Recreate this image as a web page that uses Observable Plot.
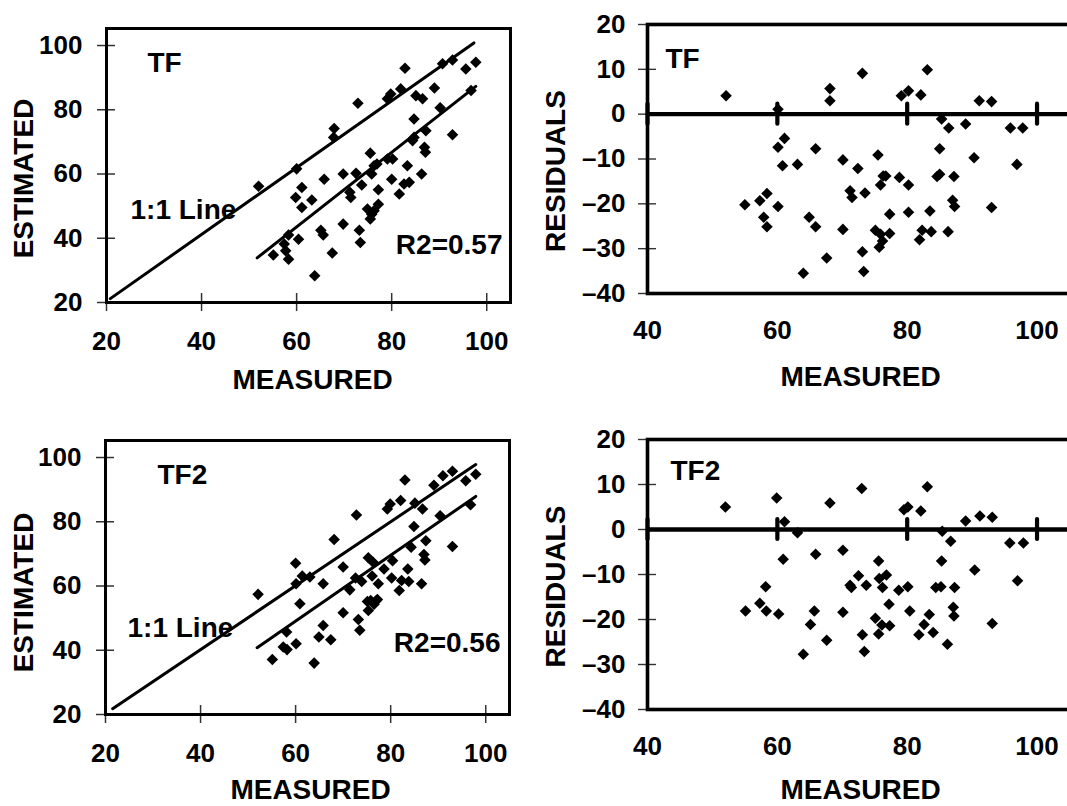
<!DOCTYPE html>
<html>
<head>
<meta charset="utf-8">
<script src="https://cdn.jsdelivr.net/npm/d3@7"></script>
<script src="https://cdn.jsdelivr.net/npm/@observablehq/plot@0.6"></script>
<style>
html, body { margin: 0; padding: 0; background: #fff; overflow: hidden; width: 1067px; height: 806px; }
#root { position: relative; width: 1067px; height: 806px; overflow: hidden; background: #fff; }
.panel { position: absolute; }
</style>
</head>
<body>
<div id="root"></div>
<script>
// ---------- data ----------
const panelNames = ["TF", "TF2"];
const r2Labels = ["R2=0.57", "R2=0.56"];
const lineLabel = "1:1 Line";
const xTitle = "MEASURED";
const yTitleScatter = "ESTIMATED";
const yTitleResidual = "RESIDUALS";

const scatterXTicks = [20, 40, 60, 80, 100];
const scatterYTicks = [20, 40, 60, 80, 100];
const residualXTicks = [40, 60, 80, 100];
const residualYTicks = [-40, -30, -20, -10, 0, 10, 20];

// TF: measured vs estimated
const tfMeasured = [52.0,55.1,57.4,57.7,58.3,58.3,60.0,59.8,61.1,61.1,60.4,63.2,63.8,65.1,65.6,65.8,67.5,67.9,67.8,69.8,69.8,71.2,71.4,72.5,72.9,73.2,73.4,73.7,74.9,75.5,75.5,75.8,75.8,76.3,76.3,76.9,77.2,77.2,79.1,79.1,79.8,80.2,80.0,81.6,81.9,82.8,82.6,83.7,83.3,84.4,84.7,84.7,85.1,86.3,86.5,86.9,87.1,87.2,89.0,90.2,90.7,92.8,92.8,95.6,96.7,97.7];
const tfEstimated = [56.2,34.8,38.2,36.1,41.0,33.5,61.6,52.7,55.8,49.6,39.7,51.9,28.3,42.5,41.0,58.4,35.4,74.2,71.4,60.0,44.4,54.3,52.7,60.2,82.0,42.5,38.7,56.6,49.1,66.5,46.0,60.0,47.5,62.6,48.6,63.1,55.1,50.6,83.4,64.7,84.9,64.7,58.4,53.8,86.5,92.9,56.9,57.4,62.6,70.4,71.4,77.1,84.4,60.0,83.4,68.3,66.8,73.5,86.8,80.6,94.3,95.5,72.2,92.7,86.0,94.8];
const tfDiagX = [20.8, 97.3];
const tfDiagY = [21.2, 100.8];
const tfFitX = [51.7, 97.7];
const tfFitY = [33.9, 87.3];

// TF: residuals
const tfResMeasured = [52.1,55.0,57.3,57.9,58.4,58.4,60.1,60.1,60.1,61.1,60.8,63.1,64.0,64.9,65.9,65.9,67.6,68.1,68.1,70.1,70.1,72.4,71.2,71.5,73.1,73.1,73.5,73.3,75.5,75.1,75.9,76.3,76.7,75.7,76.2,75.9,77.3,77.3,78.8,79.1,80.2,80.2,80.2,81.9,82.1,82.3,83.1,83.5,83.7,84.6,85.0,85.0,85.3,86.3,86.4,87.2,87.0,87.3,89.0,90.3,91.1,93.0,93.0,95.9,96.9,97.8];
const tfResidual = [4.1,-20.2,-19.3,-23.0,-17.7,-25.1,1.1,-7.4,-20.6,-5.4,-11.5,-11.2,-35.5,-23.0,-7.7,-25.1,-32.1,5.7,3.0,-10.2,-25.7,-12.1,-17.1,-18.6,9.1,-30.7,-17.6,-35.1,-9.1,-25.9,-15.8,-13.8,-13.8,-29.7,-28.3,-26.8,-22.3,-26.6,-14.1,4.1,5.2,-15.8,-21.9,-28.0,4.3,-25.9,9.9,-21.6,-26.2,-13.9,-13.4,-7.7,-1.1,-26.2,-3.1,-13.9,-19.2,-20.6,-2.2,-9.7,3.0,2.8,-20.8,-3.1,-11.2,-3.1];

// TF2: measured vs estimated
const tf2Measured = [52.1,55.1,57.4,58.1,58.2,60.0,60.1,60.9,60.1,61.4,63.0,63.9,64.9,65.8,65.8,67.4,68.1,70.0,70.0,71.4,72.8,72.6,73.2,73.5,73.9,75.1,75.3,75.3,75.8,76.1,76.3,76.5,77.0,77.4,77.2,78.6,79.3,79.9,80.4,80.2,81.8,82.1,82.3,83.0,83.6,83.8,84.3,84.9,85.1,86.5,86.7,87.0,87.2,87.4,89.1,90.4,91.0,93.0,93.0,95.8,96.8,97.9];
const tf2Estimated = [57.4,37.1,41.0,45.7,40.2,67.1,60.7,54.5,42.0,63.1,62.8,36.0,44.1,47.7,60.7,43.3,74.5,65.9,51.7,58.8,82.1,62.5,49.6,46.2,61.4,55.2,68.8,52.4,55.5,63.1,67.4,54.3,55.5,60.7,55.8,65.3,84.0,85.5,67.9,62.5,58.6,86.6,61.7,93.0,65.3,61.4,72.1,78.5,85.8,60.7,84.0,69.8,68.1,74.1,91.4,81.9,94.3,95.7,72.3,92.8,85.3,94.8];
const tf2DiagX = [21.5, 97.9];
const tf2DiagY = [21.8, 97.8];
const tf2FitX = [51.9, 97.9];
const tf2FitY = [40.8, 87.9];

// TF2: residuals
const tf2ResMeasured = [52.0,55.1,57.3,58.2,58.3,59.9,60.2,61.1,60.9,63.1,64.0,65.1,65.7,65.9,67.6,68.1,70.1,70.1,71.2,71.4,72.5,73.0,73.1,73.4,73.7,75.1,75.6,75.7,76.2,76.8,75.6,76.1,77.3,77.2,78.7,79.5,80.1,80.1,80.4,81.8,82.1,82.6,83.1,83.4,84.0,84.4,85.2,85.3,85.4,86.2,86.7,87.3,87.1,87.2,89.0,90.4,91.2,93.1,93.1,95.8,97.0,97.9];
const tf2Residual = [5.0,-18.1,-16.4,-12.7,-18.1,7.0,-18.8,1.7,-6.6,-0.7,-27.7,-21.1,-18.1,-5.5,-24.6,5.9,-4.6,-18.4,-12.4,-12.9,-10.3,9.1,-23.4,-27.1,-12.4,-19.7,-7.0,-10.9,-12.9,-10.1,-23.2,-21.2,-21.4,-16.6,-13.5,4.4,5.0,-12.7,-18.1,-23.4,4.1,-21.1,9.5,-18.9,-22.9,-12.9,-12.7,-7.0,-0.4,-25.5,-2.6,-12.9,-17.3,-19.2,1.9,-9.0,3.0,2.7,-20.9,-3.0,-11.4,-3.0];

// ---------- drawing ----------
const FONT = "'Liberation Sans', Arial, Helvetica, sans-serif";
const root = document.getElementById("root");

function mount(svg, left, top, w, h) {
  const div = document.createElement("div");
  div.className = "panel";
  div.style.left = left + "px";
  div.style.top = top + "px";
  div.style.width = w + "px";
  div.style.height = h + "px";
  div.appendChild(svg);
  root.appendChild(div);
}

const baseStyle = {fontFamily: FONT, fontSize: "26px", fontWeight: "bold", background: "white", color: "black", overflow: "visible"};
const dash = d => d < 0 ? "\u2013" + (-d) : String(d);
const DOT_R = 5.2;

function scatterPanel(o) {
  const xDom = [20, 105], yDom = [20, 105.3];
  return Plot.plot({
    width: o.w, height: o.h,
    marginLeft: o.ml, marginRight: o.mr, marginTop: o.mt, marginBottom: o.mb,
    style: baseStyle,
    x: {domain: xDom, ticks: scatterXTicks, tickSize: 0, tickPadding: 29, label: null},
    y: {domain: yDom, ticks: scatterYTicks, tickSize: 0, tickPadding: 24, label: null},
    marks: [
      Plot.ruleX(scatterXTicks, {x: d => d, y1: yDom[0], y2: yDom[0], insetTop: -9, insetBottom: -9, stroke: "#333", strokeWidth: 1.5}),
      Plot.ruleY(scatterYTicks, {y: d => d, x1: xDom[0], x2: xDom[0], insetLeft: -9, insetRight: -9, stroke: "#333", strokeWidth: 1.5}),
      Plot.frame({stroke: "black", strokeWidth: 3}),
      Plot.line(o.diagX, {x: o.diagX, y: o.diagY, stroke: "black", strokeWidth: 3}),
      Plot.line(o.fitX, {x: o.fitX, y: o.fitY, stroke: "black", strokeWidth: 3}),
      Plot.dot(o.meas, {x: o.meas, y: o.est, symbol: "diamond2", r: DOT_R, fill: "black", stroke: "none"}),
      Plot.text([o.name], {text: d => d, frameAnchor: "top-left", textAnchor: "start", lineAnchor: "middle", dx: o.nameDx, dy: o.nameDy, fontSize: 28, fontWeight: "bold"}),
      Plot.text([lineLabel], {text: d => d, frameAnchor: "top-left", textAnchor: "start", lineAnchor: "middle", dx: o.lineDx, dy: o.lineDy, fontSize: 28, fontWeight: "bold"}),
      Plot.text([o.r2], {text: d => d, frameAnchor: "top-right", textAnchor: "end", lineAnchor: "middle", dx: o.r2Dx, dy: o.r2Dy, fontSize: 28, fontWeight: "bold"}),
      Plot.text([xTitle], {text: d => d, frameAnchor: "bottom", textAnchor: "middle", lineAnchor: "middle", dx: o.xtDx, dy: o.xtDy, fontSize: 28, fontWeight: "bold"}),
      Plot.text([yTitleScatter], {text: d => d, frameAnchor: "left", textAnchor: "middle", lineAnchor: "middle", rotate: -90, dx: o.ytDx, dy: o.ytDy, fontSize: 28, fontWeight: "bold"})
    ]
  });
}

function residualPanel(o) {
  const xDom = [40, 105], yDom = [-40, 20];
  return Plot.plot({
    width: o.w, height: o.h,
    marginLeft: o.ml, marginRight: o.mr, marginTop: o.mt, marginBottom: o.mb,
    style: baseStyle,
    x: {domain: xDom, ticks: residualXTicks, tickSize: 0, tickPadding: 27, label: null},
    y: {domain: yDom, ticks: residualYTicks, tickSize: 0, tickPadding: 22, tickFormat: dash, label: null},
    marks: [
      Plot.ruleY(residualYTicks, {y: d => d, x1: xDom[0], x2: xDom[0], insetLeft: -9, insetRight: -9, stroke: "#333", strokeWidth: 1.4}),
      Plot.frame({stroke: "black", strokeWidth: 3.6}),
      Plot.ruleY([0], {stroke: "black", strokeWidth: 4.4}),
      Plot.ruleX(residualXTicks, {x: d => d, y1: 0, y2: 0, insetTop: -10, insetBottom: -10, stroke: "black", strokeWidth: 4.2, strokeLinecap: "round"}),
      Plot.dot(o.meas, {x: o.meas, y: o.res, symbol: "diamond2", r: DOT_R, fill: "black", stroke: "none"}),
      Plot.text([o.name], {text: d => d, frameAnchor: "top-left", textAnchor: "start", lineAnchor: "middle", dx: o.nameDx, dy: o.nameDy, fontSize: 28, fontWeight: "bold"}),
      Plot.text([xTitle], {text: d => d, frameAnchor: "bottom", textAnchor: "middle", lineAnchor: "middle", dx: o.xtDx, dy: o.xtDy, fontSize: 28, fontWeight: "bold"}),
      Plot.text([yTitleResidual], {text: d => d, frameAnchor: "left", textAnchor: "middle", lineAnchor: "middle", rotate: -90, dx: o.ytDx, dy: o.ytDy, fontSize: 28, fontWeight: "bold"})
    ]
  });
}

// top-left: TF scatter
mount(scatterPanel({
  w: 540, h: 400, ml: 106, mr: 30, mt: 28, mb: 98,
  meas: tfMeasured, est: tfEstimated, diagX: tfDiagX, diagY: tfDiagY, fitX: tfFitX, fitY: tfFitY,
  name: panelNames[0], r2: r2Labels[0],
  nameDx: 41, nameDy: 35, lineDx: 24, lineDy: 182, r2Dx: -8, r2Dy: 217,
  xtDx: 4, xtDy: 78, ytDx: -82, ytDy: 13
}), 0, 0, 540, 400);

// bottom-left: TF2 scatter
mount(scatterPanel({
  w: 540, h: 406, ml: 105, mr: 31, mt: 40, mb: 92,
  meas: tf2Measured, est: tf2Estimated, diagX: tf2DiagX, diagY: tf2DiagY, fitX: tf2FitX, fitY: tf2FitY,
  name: panelNames[1], r2: r2Labels[1],
  nameDx: 52, nameDy: 35, lineDx: 22, lineDy: 188, r2Dx: -9, r2Dy: 203,
  xtDx: 3, xtDy: 76, ytDx: -81, ytDy: 15
}), 0, 400, 540, 406);

// top-right: TF residuals
mount(residualPanel({
  w: 540, h: 400, ml: 107, mr: 11, mt: 24, mb: 107,
  meas: tfResMeasured, res: tfResidual, name: panelNames[0],
  nameDx: 18, nameDy: 35, xtDx: 2, xtDy: 84, ytDx: -91, ytDy: 12
}), 540, 0, 540, 400);

// bottom-right: TF2 residuals
mount(residualPanel({
  w: 540, h: 406, ml: 107, mr: 11, mt: 39, mb: 97,
  meas: tf2ResMeasured, res: tf2Residual, name: panelNames[1],
  nameDx: 23, nameDy: 32, xtDx: 2, xtDy: 81, ytDx: -91, ytDy: 12
}), 540, 400, 540, 406);
</script>
</body>
</html>
